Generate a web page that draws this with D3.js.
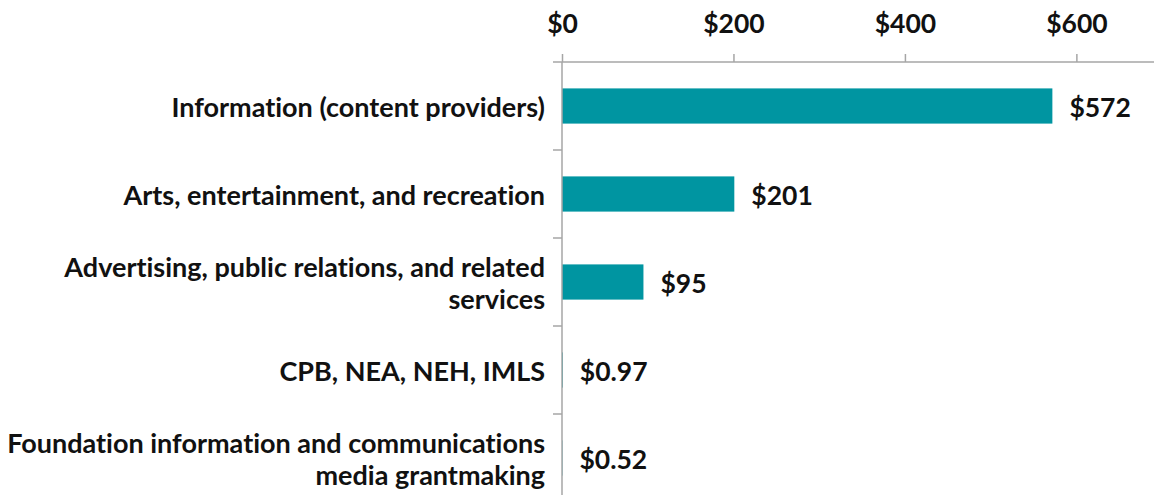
<!DOCTYPE html>
<html>
<head>
<meta charset="utf-8">
<script src="https://cdn.jsdelivr.net/npm/d3@7"></script>
<style>
	body { margin: 0; background: #fff; }
	text { font-family: Lato, "Open Sans", sans-serif; font-weight: bold; fill: #111; font-variant-ligatures: none; }
</style>
</head>
<body>
<div id="chart"></div>
<script>
// data
var categories = [
	"Information (content providers)",
	"Arts, entertainment, and recreation",
	"Advertising, public relations, and related services",
	"CPB, NEA, NEH, IMLS",
	"Foundation information and communications media grantmaking"
]
var values = [572, 201, 95, 0.97, 0.52]
var valueLabels = ["$572", "$201", "$95", "$0.97", "$0.52"]
var tickValues = [0, 200, 400, 600]

var width = 1154
var height = 495
var left = 562
var top_sc = 62
var fontSize = 27
var numSize = 26.5

var svg = d3.select("#chart")
	.append("svg")
	.attr("width", width)
	.attr("height", height)

var x = d3.scaleLinear()
	.domain([0, 700])
	.range([left, left + 700 * 0.8573])

var y = d3.scaleBand()
	.domain(categories)
	.range([top_sc, top_sc + 440])
	.paddingInner(0.6)
	.paddingOuter(0.3)

var gap = (y.step() - y.bandwidth()) / 2
var axisColor = "#a6a6a6"

// bars
svg.selectAll(".bar")
	.data(values)
	.enter()
	.append("rect")
	.attr("class", "bar")
	.attr("x", x(0))
	.attr("y", function (d, i) { return y(categories[i]) })
	.attr("width", function (d) { return x(d) - x(0) })
	.attr("height", y.bandwidth())
	.style("fill", "#0095a1")

// top axis
var xAxis = svg.append("g")
	.attr("transform", "translate(0," + top_sc + ")")
	.call(d3.axisTop(x)
		.tickValues(tickValues)
		.tickFormat(function (d) { return "$" + d })
		.tickSize(8)
		.tickSizeOuter(0)
		.tickPadding(21))
xAxis.select(".domain").remove()
xAxis.selectAll("line").attr("stroke", axisColor).attr("stroke-width", 1.5)
xAxis.selectAll("text")
	.style("font-size", numSize + "px")
	.attr("fill", "#111")
	.style("font-family", "Lato, sans-serif")

svg.append("line")
	.attr("x1", left - 9).attr("x2", width)
	.attr("y1", top_sc).attr("y2", top_sc)
	.attr("stroke", axisColor).attr("stroke-width", 1.5)

// left axis
svg.append("line")
	.attr("x1", left).attr("x2", left)
	.attr("y1", top_sc).attr("y2", height)
	.attr("stroke", axisColor).attr("stroke-width", 1.5)

svg.selectAll(".ytick")
	.data(categories.slice(1))
	.enter()
	.append("line")
	.attr("x1", left - 9).attr("x2", left)
	.attr("y1", function (d) { return y(d) - gap })
	.attr("y2", function (d) { return y(d) - gap })
	.attr("stroke", axisColor).attr("stroke-width", 1.5)

// category labels, wrapped
var maxWidth = 545
categories.forEach(function (cat, i) {
	var t = svg.append("text")
		.attr("text-anchor", "end")
		.style("font-size", fontSize + "px")
	var words = cat.split(" ")
	var lines = []
	var line = []
	var probe = svg.append("text").style("font-size", fontSize + "px")
	words.forEach(function (w) {
		line.push(w)
		probe.text(line.join(" "))
		if (probe.node().getComputedTextLength() > maxWidth && line.length > 1) {
			line.pop()
			lines.push(line.join(" "))
			line = [w]
		}
	})
	lines.push(line.join(" "))
	probe.remove()

	var cy = y(cat) + y.bandwidth() / 2
	var lh = 32
	lines.forEach(function (l, j) {
		t.append("tspan")
			.attr("x", 545)
			.attr("y", cy + 10.7 + (j - (lines.length - 1) / 2) * lh)
			.text(l)
	})
})

// value labels
svg.selectAll(".val")
	.data(values)
	.enter()
	.append("text")
	.attr("x", function (d) { return x(d) + 17 })
	.attr("y", function (d, i) { return y(categories[i]) + y.bandwidth() / 2 + 10.7 })
	.style("font-size", numSize + "px")
	.text(function (d, i) { return valueLabels[i] })
</script>
</body>
</html>
